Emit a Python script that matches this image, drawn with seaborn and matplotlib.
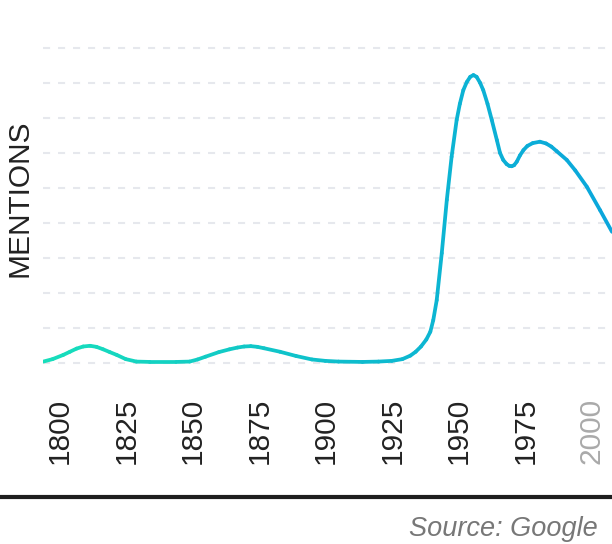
import numpy as np
import pandas as pd
import seaborn as sns
import matplotlib.pyplot as plt
from matplotlib.colors import LinearSegmentedColormap
from matplotlib.lines import Line2D
from matplotlib.transforms import ScaledTranslation

# values (grid step = 1 unit)
years = [1800, 1803.5, 1807.5, 1810, 1812.5, 1815, 1817.6, 1820, 1822.5, 1825,
         1827.6, 1831, 1835, 1840, 1850, 1855, 1858, 1861, 1866, 1870,
         1873, 1875.5, 1878, 1880.5, 1883, 1889, 1895, 1901, 1906, 1911,
         1920, 1926, 1931, 1935, 1938, 1940, 1942, 1944, 1945.5, 1946.6,
         1947.9, 1949.8, 1951.7, 1953.5, 1955.4, 1956.6, 1957.9, 1959.2, 1960.5, 1961.7,
         1962.9, 1964.2, 1965.4, 1967, 1968.6, 1970.5, 1971.7, 1972.9, 1974.2, 1975.2,
         1976.1, 1977, 1978, 1979.2, 1980.5, 1982, 1984, 1986.7, 1989, 1991,
         1993, 1996.8, 2000, 2004.3, 2009.3, 2013.8]
mentions = [0.05, 0.12, 0.24, 0.33, 0.42, 0.48, 0.50, 0.47, 0.40, 0.32,
            0.24, 0.12, 0.05, 0.04, 0.04, 0.05, 0.11, 0.19, 0.32, 0.40,
            0.45, 0.48, 0.49, 0.47, 0.43, 0.33, 0.21, 0.11, 0.07, 0.05,
            0.04, 0.05, 0.07, 0.12, 0.22, 0.33, 0.48, 0.68, 0.90, 1.23,
            1.80, 3.14, 4.66, 5.89, 6.94, 7.40, 7.79, 8.02, 8.17, 8.22,
            8.17, 8.00, 7.79, 7.40, 6.94, 6.37, 6.00, 5.80, 5.68, 5.63,
            5.62, 5.65, 5.75, 5.93, 6.08, 6.20, 6.28, 6.32, 6.27, 6.18,
            6.05, 5.80, 5.50, 5.04, 4.37, 3.75]
tick_years = [1800, 1825, 1850, 1875, 1900, 1925, 1950, 1975, 2000]
tick_labels = [str(y) for y in tick_years]

sns.set_style('white')
plt.rcParams['font.family'] = ['Liberation Sans', 'DejaVu Sans']

fig = plt.figure(figsize=(6.12, 5.44), dpi=100)
ax = fig.add_axes([43.3 / 612, 1 - 370 / 544, 1 - 43.3 / 612, 330 / 544])

# dashed grid
for v in range(10):
    ax.axhline(v, color='#e6e8ed', lw=1.5, ls=(0, (3.4, 3.8)), zorder=0)

# gradient line, one short segment per pair of points
cmap = LinearSegmentedColormap.from_list('teal', ['#17dfbb', '#0ebfcc', '#0aa6dc'])
rows = []
for i in range(len(years) - 1):
    for j in (i, i + 1):
        rows.append({'year': years[j], 'mentions': mentions[j], 'seg': i})
df = pd.DataFrame(rows)
pal = {i: cmap(((years[i] + years[i + 1]) / 2 - 1800) / 213.8) for i in range(len(years) - 1)}
sns.lineplot(data=df, x='year', y='mentions', hue='seg', palette=pal, estimator=None,
             sort=False, legend=False, lw=2.7, solid_capstyle='round', ax=ax)

ax.set_xlim(1800, 2013.8)
ax.set_ylim(-0.19, 9.22)
ax.set_xticks(tick_years)
ax.set_xticklabels(tick_labels, rotation=90, fontsize=21.5, color='#222222')
ax.tick_params(axis='x', length=0, pad=20)
ax.set_yticks([])
ax.set_xlabel('')
ax.set_ylabel('')
for s in ax.spines.values():
    s.set_visible(False)

offset = ScaledTranslation(16.7 / 100, 0, fig.dpi_scale_trans)
for lab in ax.get_xticklabels():
    lab.set_transform(lab.get_transform() + offset)
ax.get_xticklabels()[-1].set_color('#aaaaaa')

fig.text(20 / 612, 1 - 198 / 544, 'MENTIONS', rotation=90, ha='center', va='center',
         fontsize=21.5, color='#222222')
fig.text(598 / 612, 1 - 529 / 544, 'Source: Google', ha='right', va='center',
         style='italic', fontsize=19.5, color='#777777')
fig.add_artist(Line2D([0, 1], [1 - 497 / 544] * 2, color='#1e1e1e', lw=3,
                      transform=fig.transFigure))

fig.savefig('out.png', dpi=100)
